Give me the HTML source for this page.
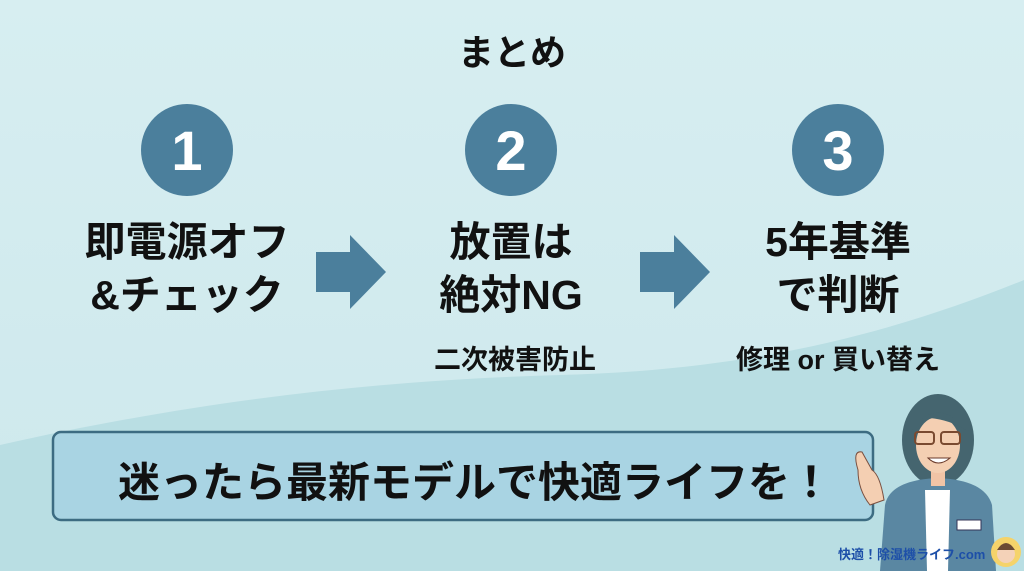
<!DOCTYPE html>
<html><head><meta charset="utf-8"><style>
body{margin:0;width:1024px;height:571px;overflow:hidden;font-family:"Liberation Sans","Noto Sans CJK JP",sans-serif;}
.t{position:absolute;font-weight:bold;color:#111;text-align:center;white-space:nowrap}
</style></head><body>
<svg width="1024" height="571" style="position:absolute;left:0;top:0">
<defs><linearGradient id="g" x1="0" y1="0" x2="0" y2="1"><stop offset="0" stop-color="#d7eef1"/><stop offset="1" stop-color="#cde8ec"/></linearGradient></defs>
<rect width="1024" height="571" fill="url(#g)"/>
<path d="M0,445 C200,400 380,380 560,375 C760,370 900,330 1024,280 L1024,571 L0,571Z" fill="#b9dee3"/>
<circle cx="187" cy="150" r="46" fill="#4b7f9c"/>
<circle cx="511" cy="150" r="46" fill="#4b7f9c"/>
<circle cx="838" cy="150" r="46" fill="#4b7f9c"/>
<path d="M316,252 H350 V235 L386,272 L350,309 V292 H316Z" fill="#4b7f9c"/>
<path d="M640,252 H674 V235 L710,272 L674,309 V292 H640Z" fill="#4b7f9c"/>
<rect x="53" y="432" width="820" height="88" rx="8" fill="#a9d4e3" stroke="#3d6c82" stroke-width="2.5"/>
<ellipse cx="938" cy="440" rx="36" ry="46" fill="#45656f"/>
<path d="M880,571 L885,505 Q890,480 938,478 Q985,480 992,505 L996,571Z" fill="#5a87a2"/>
<path d="M925,490 L950,490 L948,571 L927,571Z" fill="#fff"/>
<rect x="931" y="466" width="14" height="20" fill="#f1c4a6"/>
<ellipse cx="938" cy="445" rx="22" ry="28" fill="#f4cfb2"/>
<path d="M912,430 Q938,395 966,430 Q950,420 930,418Z" fill="#45656f"/>
<rect x="915" y="432" width="19" height="12" rx="3" fill="none" stroke="#7a4a30" stroke-width="2"/>
<rect x="941" y="432" width="19" height="12" rx="3" fill="none" stroke="#7a4a30" stroke-width="2"/>
<path d="M928,458 Q938,468 950,458Z" fill="#fff" stroke="#6a3a2a"/>
<path d="M858,470 Q852,450 862,452 L872,470 Q880,475 884,500 L870,505 Q858,490 858,470Z" fill="#f4cfb2" stroke="#7a5040"/>
<rect x="957" y="520" width="24" height="10" fill="#fff" stroke="#335"/>
<circle cx="1006" cy="552" r="15" fill="#f5d36a"/>
<circle cx="1006" cy="554" r="9" fill="#f4d2b8"/>
<path d="M997,550 Q1006,536 1015,550Z" fill="#6b4a33"/>
</svg>
<div class="t" style="left:0;width:1024px;top:24px;font-size:36px">まとめ</div>
<div class="t" style="left:137px;width:100px;top:118px;font-size:56px;color:#fff">1</div>
<div class="t" style="left:461px;width:100px;top:118px;font-size:56px;color:#fff">2</div>
<div class="t" style="left:788px;width:100px;top:118px;font-size:56px;color:#fff">3</div>
<div class="t" style="left:37px;width:300px;top:216px;font-size:41px;line-height:53px">即電源オフ<br>&amp;チェック</div>
<div class="t" style="left:361px;width:300px;top:216px;font-size:41px;line-height:53px">放置は<br>絶対NG</div>
<div class="t" style="left:688px;width:300px;top:216px;font-size:41px;line-height:53px">5年基準<br>で判断</div>
<div class="t" style="left:365px;width:300px;top:338px;font-size:27px">二次被害防止</div>
<div class="t" style="left:688px;width:300px;top:338px;font-size:27px">修理 or 買い替え</div>
<div class="t" style="left:65px;width:820px;top:449px;font-size:42px">迷ったら最新モデルで快適ライフを！</div>
<div class="t" style="left:838px;top:544px;font-size:13px;color:#1d4fa8">快適！除湿機ライフ.com</div>
</body></html>
